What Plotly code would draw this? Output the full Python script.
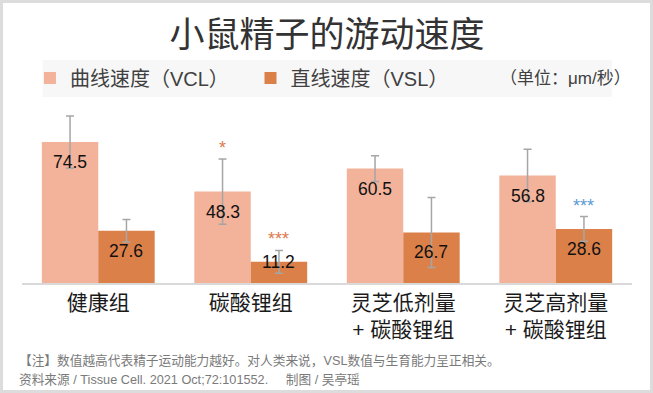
import plotly.graph_objects as go

categories = ["健康组", "碳酸锂组", "灵芝低剂量<br>+ 碳酸锂组", "灵芝高剂量<br>+ 碳酸锂组"]
vcl = [74.5, 48.3, 60.5, 56.8]
vcl_err = [13.8, 17.2, 6.8, 13.9]
vsl = [27.6, 11.2, 26.7, 28.6]
vsl_err = [6.0, 6.0, 18.5, 6.5]
vcl_sig = ["", "*", "", ""]
vsl_sig = ["", "***", "", "***"]
vsl_sig_kind = ["", "vs_healthy", "", "vs_lithium"]
vcl_sig_kind = ["", "vs_healthy", "", ""]

C_VCL = "#F3B29A"
C_VSL = "#DB8049"
C_ERR = "#A6A6A6"
SIG_COL = {"vs_healthy": "#DD7A4C", "vs_lithium": "#5B9BD5"}
CJK = "Liberation Sans, Noto Sans CJK SC, sans-serif"
NB = "\u00a0"

BARGAP = 0.26
half = (1 - BARGAP) / 4  # offset of each bar centre from group centre

x = list(range(len(categories)))

fig = go.Figure()
fig.add_trace(go.Bar(
    x=x, y=vcl, name="曲线速度（VCL）" + NB * 3, marker=dict(color=C_VCL, line=dict(width=0)),
    error_y=dict(type="data", array=vcl_err, color=C_ERR, thickness=1.5, width=4),
))
fig.add_trace(go.Bar(
    x=x, y=vsl, name="直线速度（VSL）", marker=dict(color=C_VSL, line=dict(width=0)),
    error_y=dict(type="data", array=vsl_err, color=C_ERR, thickness=1.5, width=4),
))

annotations = []
for i in x:
    for val, err, sig, kind, off in (
        (vcl[i], vcl_err[i], vcl_sig[i], vcl_sig_kind[i], -half),
        (vsl[i], vsl_err[i], vsl_sig[i], vsl_sig_kind[i], half),
    ):
        annotations.append(dict(
            x=i + off, y=val, xref="x", yref="y", text=f"{val:.1f}", showarrow=False,
            yshift=-20 if val > 15 else 0,
            font=dict(family=CJK, size=17.5, color="#111111"),
        ))
        if sig:
            annotations.append(dict(
                x=i + off, y=val + err, xref="x", yref="y", text=sig, showarrow=False,
                yshift=11, font=dict(family=CJK, size=18, color=SIG_COL[kind]),
            ))

# unit text next to legend
annotations.append(dict(
    x=0.891, y=1.12, xref="paper", yref="paper", text="（单位：μm/秒）", showarrow=False,
    xanchor="center", yanchor="middle", font=dict(family=CJK, size=17, color="#404040"),
))
# footnotes
annotations.append(dict(
    x=-0.008, y=-0.421, xref="paper", yref="paper", xanchor="left", yanchor="middle",
    text="【注】数值越高代表精子运动能力越好。对人类来说，VSL数值与生育能力呈正相关。",
    showarrow=False, font=dict(family=CJK, size=12.7, color="#7a7a7a"),
))
annotations.append(dict(
    x=-0.008, y=-0.525, xref="paper", yref="paper", xanchor="left", yanchor="middle",
    text="资料来源 / Tissue Cell. 2021 Oct;72:101552." + NB * 5 + "制图 / 吴亭瑶",
    showarrow=False, font=dict(family=CJK, size=12.7, color="#7a7a7a"),
))

shapes = [
    dict(type="rect", xref="paper", yref="paper", x0=-0.0311, x1=1.0295, y0=-0.585, y1=1.530,
         fillcolor="white", line=dict(width=0), layer="below"),
    dict(type="rect", xref="paper", yref="paper", x0=0.034, x1=0.967, y0=1.016, y1=1.219,
         fillcolor="#f7f7f7", line=dict(width=0), layer="below"),
]

fig.update_layout(
    width=653, height=393,
    margin=dict(l=22, r=21, t=100, b=110),
    paper_bgcolor="#dcdcdc", plot_bgcolor="rgba(0,0,0,0)",
    barmode="group", bargap=BARGAP, bargroupgap=0,
    title=dict(text="小鼠精子的游动速度", x=0.5, xref="paper", xanchor="center",
               y=1 - 35 / 393, yref="container", yanchor="middle",
               font=dict(family="Noto Sans CJK SC", size=35, color="#333333")),
    showlegend=True,
    legend=dict(orientation="h", x=0.013, xanchor="left", y=1.12, yanchor="middle",
                font=dict(family=CJK, size=20, color="#404040"), bgcolor="rgba(0,0,0,0)",
                itemclick=False, itemdoubleclick=False),
    xaxis=dict(tickvals=x, ticktext=categories, range=[-0.5, 3.5], showline=True,
               linecolor="#d9d9d9", linewidth=1.5, ticks="", showgrid=False, zeroline=False,
               tickfont=dict(family=CJK, size=21, color="#1a1a1a"), fixedrange=True),
    yaxis=dict(range=[0, 96.7], visible=False, showgrid=False, zeroline=False, fixedrange=True),
    annotations=annotations, shapes=shapes,
)

fig.write_html("out.html", config={"displayModeBar": False},
               post_script="document.body.style.margin='0';document.body.style.overflow='hidden';")
